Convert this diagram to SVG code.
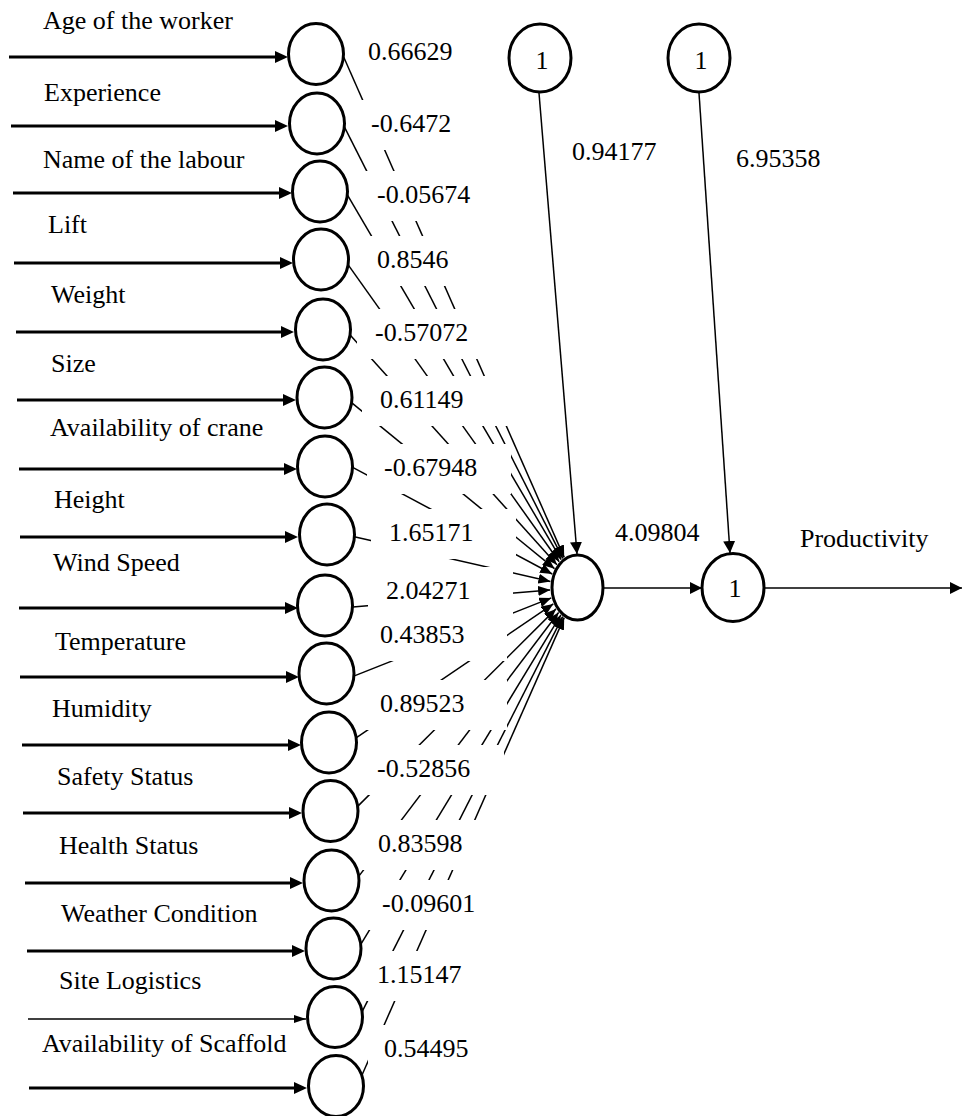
<svg xmlns="http://www.w3.org/2000/svg" width="964" height="1116" viewBox="0 0 964 1116">
<style>
.t{font-family:"Liberation Serif","Times New Roman","DejaVu Serif",serif;font-size:26px;fill:#000}
.nd{fill:#fff;stroke:#000;stroke-width:3}
.in{stroke:#000;stroke-width:3;fill:none}
.cn{stroke:#000;stroke-width:1.5;fill:none}
.bx{fill:#fff}
</style>
<defs>
<marker id="ah" markerUnits="userSpaceOnUse" markerWidth="13" markerHeight="12" viewBox="0 0 13 12" refX="7" refY="6" orient="auto"><path d="M0,0 L13,6 L0,12 z" fill="#000"/></marker>
<marker id="ahs" markerUnits="userSpaceOnUse" markerWidth="12" markerHeight="8" viewBox="0 0 12 8" refX="12" refY="4" orient="auto"><path d="M0,0 L12,4 L0,8 z" fill="#000"/></marker>
<marker id="as" markerUnits="userSpaceOnUse" markerWidth="12" markerHeight="10" viewBox="0 0 12 10" refX="12" refY="5" orient="auto"><path d="M0,0 L12,5 L0,10 z" fill="#000"/></marker>
<marker id="am" markerUnits="userSpaceOnUse" markerWidth="12" markerHeight="12" viewBox="0 0 12 12" refX="12" refY="6" orient="auto"><path d="M0,0 L12,6 L0,12 z" fill="#000"/></marker>
</defs>

<g id="connectors">
<line class="in" x1="9" y1="57" x2="282" y2="57" marker-end="url(#ah)"/>
<line class="in" x1="11" y1="126" x2="282" y2="126" marker-end="url(#ah)"/>
<line class="in" x1="13" y1="193" x2="286" y2="193" marker-end="url(#ah)"/>
<line class="in" x1="14" y1="263" x2="287" y2="263" marker-end="url(#ah)"/>
<line class="in" x1="16" y1="332" x2="288" y2="332" marker-end="url(#ah)"/>
<line class="in" x1="17" y1="400" x2="290" y2="400" marker-end="url(#ah)"/>
<line class="in" x1="19" y1="469" x2="291" y2="469" marker-end="url(#ah)"/>
<line class="in" x1="20" y1="537" x2="292" y2="537" marker-end="url(#ah)"/>
<line class="in" x1="19" y1="608" x2="292" y2="608" marker-end="url(#ah)"/>
<line class="in" x1="20" y1="677" x2="293" y2="677" marker-end="url(#ah)"/>
<line class="in" x1="22" y1="745" x2="295" y2="745" marker-end="url(#ah)"/>
<line class="in" x1="23" y1="813" x2="296" y2="813" marker-end="url(#ah)"/>
<line class="in" x1="25" y1="883" x2="297" y2="883" marker-end="url(#ah)"/>
<line class="in" x1="27" y1="951" x2="299" y2="951" marker-end="url(#ah)"/>
<line class="cn" x1="28" y1="1019" x2="306" y2="1019" marker-end="url(#ahs)"/>
<line class="in" x1="29" y1="1088" x2="301" y2="1088" marker-end="url(#ah)"/>

<line class="cn" x1="343.8" y1="57.3" x2="564.2" y2="557.4" marker-end="url(#as)"/>
<line class="cn" x1="343.6" y1="125.3" x2="562.8" y2="558.4" marker-end="url(#as)"/>
<line class="cn" x1="346.5" y1="193.4" x2="561.2" y2="559.7" marker-end="url(#as)"/>
<line class="cn" x1="347.3" y1="263.6" x2="559.2" y2="561.8" marker-end="url(#as)"/>
<line class="cn" x1="349" y1="333.8" x2="556.9" y2="564.7" marker-end="url(#as)"/>
<line class="cn" x1="349.7" y1="401.1" x2="554.5" y2="568.7" marker-end="url(#as)"/>
<line class="cn" x1="349.4" y1="465.6" x2="552.2" y2="574" marker-end="url(#as)"/>
<line class="cn" x1="352.1" y1="536.3" x2="550.4" y2="581.4" marker-end="url(#as)"/>
<line class="cn" x1="350" y1="607.3" x2="550.1" y2="589.9" marker-end="url(#as)"/>
<line class="cn" x1="351.2" y1="677.1" x2="551.3" y2="597.9" marker-end="url(#as)"/>
<line class="cn" x1="353.5" y1="739.7" x2="553.3" y2="603.9" marker-end="url(#as)"/>
<line class="cn" x1="355.9" y1="808.1" x2="556" y2="608.9" marker-end="url(#as)"/>
<line class="cn" x1="357.2" y1="878.4" x2="558.6" y2="612.5" marker-end="url(#as)"/>
<line class="cn" x1="359.4" y1="946.6" x2="560.9" y2="614.9" marker-end="url(#as)"/>
<line class="cn" x1="360.6" y1="1014.7" x2="562.7" y2="616.6" marker-end="url(#as)"/>
<line class="cn" x1="360.8" y1="1077.7" x2="564.2" y2="617.6" marker-end="url(#as)"/>

<line class="cn" x1="539" y1="93" x2="577" y2="554" marker-end="url(#am)"/>
<line class="cn" x1="699" y1="93" x2="730" y2="553" marker-end="url(#am)"/>
<line class="cn" x1="603" y1="588" x2="702" y2="588" marker-end="url(#am)"/>
<line class="cn" x1="764" y1="588" x2="962" y2="588" marker-end="url(#am)"/>
</g>

<g id="weights">
<rect class="bx" x="355" y="28" width="140" height="50"/>
<rect class="bx" x="358" y="100" width="140" height="50"/>
<rect class="bx" x="365" y="171" width="139" height="50"/>
<rect class="bx" x="366" y="236" width="138" height="50"/>
<rect class="bx" x="357" y="309" width="145" height="50"/>
<rect class="bx" x="362" y="376" width="145" height="50"/>
<rect class="bx" x="367" y="444" width="144" height="50"/>
<rect class="bx" x="371" y="509" width="145" height="50"/>
<rect class="bx" x="368" y="567" width="145" height="50"/>
<rect class="bx" x="362" y="611" width="145" height="50"/>
<rect class="bx" x="363" y="680" width="144" height="50"/>
<rect class="bx" x="359" y="745" width="145" height="50"/>
<rect class="bx" x="360" y="820" width="145" height="50"/>
<rect class="bx" x="364" y="880" width="145" height="50"/>
<rect class="bx" x="359" y="951" width="145" height="50"/>
<rect class="bx" x="368" y="1025" width="143" height="50"/>
<text class="t" x="368" y="60">0.66629</text>
<text class="t" x="371" y="132">-0.6472</text>
<text class="t" x="377" y="203">-0.05674</text>
<text class="t" x="377" y="268">0.8546</text>
<text class="t" x="375" y="341">-0.57072</text>
<text class="t" x="380" y="408">0.61149</text>
<text class="t" x="384" y="476">-0.67948</text>
<text class="t" x="389" y="541">1.65171</text>
<text class="t" x="386" y="599">2.04271</text>
<text class="t" x="380" y="643">0.43853</text>
<text class="t" x="380" y="712">0.89523</text>
<text class="t" x="377" y="777">-0.52856</text>
<text class="t" x="378" y="852">0.83598</text>
<text class="t" x="382" y="912">-0.09601</text>
<text class="t" x="377" y="983">1.15147</text>
<text class="t" x="384" y="1057">0.54495</text>
<text class="t" x="572" y="160">0.94177</text>
<text class="t" x="736" y="167">6.95358</text>
<text class="t" x="615" y="541">4.09804</text>
</g>

<g id="in1"><ellipse class="nd" cx="316" cy="54" rx="27.5" ry="30.5"/><text class="t" x="43" y="29">Age of the worker</text></g>
<g id="in2"><ellipse class="nd" cx="317" cy="123.5" rx="27.5" ry="30.5"/><text class="t" x="44" y="101">Experience</text></g>
<g id="in3"><ellipse class="nd" cx="320" cy="191.5" rx="27.5" ry="30.5"/><text class="t" x="43" y="168">Name of the labour</text></g>
<g id="in4"><ellipse class="nd" cx="321" cy="259.5" rx="27.5" ry="30.5"/><text class="t" x="48" y="233">Lift</text></g>
<g id="in5"><ellipse class="nd" cx="323" cy="329.5" rx="27.5" ry="30.5"/><text class="t" x="51" y="303">Weight</text></g>
<g id="in6"><ellipse class="nd" cx="324.5" cy="397.5" rx="27.5" ry="30.5"/><text class="t" x="51" y="372">Size</text></g>
<g id="in7"><ellipse class="nd" cx="325" cy="466.5" rx="27.5" ry="30.5"/><text class="t" x="50" y="436">Availability of crane</text></g>
<g id="in8"><ellipse class="nd" cx="327" cy="534.5" rx="27.5" ry="30.5"/><text class="t" x="54" y="508">Height</text></g>
<g id="in9"><ellipse class="nd" cx="325" cy="605.5" rx="27.5" ry="30.5"/><text class="t" x="53" y="571">Wind Speed</text></g>
<g id="in10"><ellipse class="nd" cx="326.5" cy="673.5" rx="27.5" ry="30.5"/><text class="t" x="55" y="650">Temperature</text></g>
<g id="in11"><ellipse class="nd" cx="329" cy="742.5" rx="27.5" ry="30.5"/><text class="t" x="52" y="717">Humidity</text></g>
<g id="in12"><ellipse class="nd" cx="330.5" cy="811" rx="27.5" ry="30.5"/><text class="t" x="57" y="785">Safety Status</text></g>
<g id="in13"><ellipse class="nd" cx="331.5" cy="880.5" rx="27.5" ry="30.5"/><text class="t" x="59" y="854">Health Status</text></g>
<g id="in14"><ellipse class="nd" cx="333.5" cy="948.5" rx="27.5" ry="30.5"/><text class="t" x="61" y="922">Weather Condition</text></g>
<g id="in15"><ellipse class="nd" cx="335" cy="1017" rx="27.5" ry="30.5"/><text class="t" x="59" y="989">Site Logistics</text></g>
<g id="in16"><ellipse class="nd" cx="336" cy="1086" rx="27.5" ry="30.5"/><text class="t" x="42" y="1052">Availability of Scaffold</text></g>

<g id="bias1"><ellipse class="nd" cx="540" cy="58" rx="31" ry="34"/><text class="t" x="542" y="69" text-anchor="middle">1</text></g>
<g id="bias2"><ellipse class="nd" cx="699" cy="58" rx="31" ry="34"/><text class="t" x="701" y="69" text-anchor="middle">1</text></g>
<g id="hidden"><ellipse class="nd" cx="577.5" cy="587.5" rx="25.5" ry="32.5"/></g>
<g id="output"><ellipse class="nd" cx="733" cy="587.5" rx="31" ry="34"/><text class="t" x="735" y="597" text-anchor="middle">1</text></g>
<g id="outlabel"><text class="t" x="800" y="547">Productivity</text></g>
</svg>
